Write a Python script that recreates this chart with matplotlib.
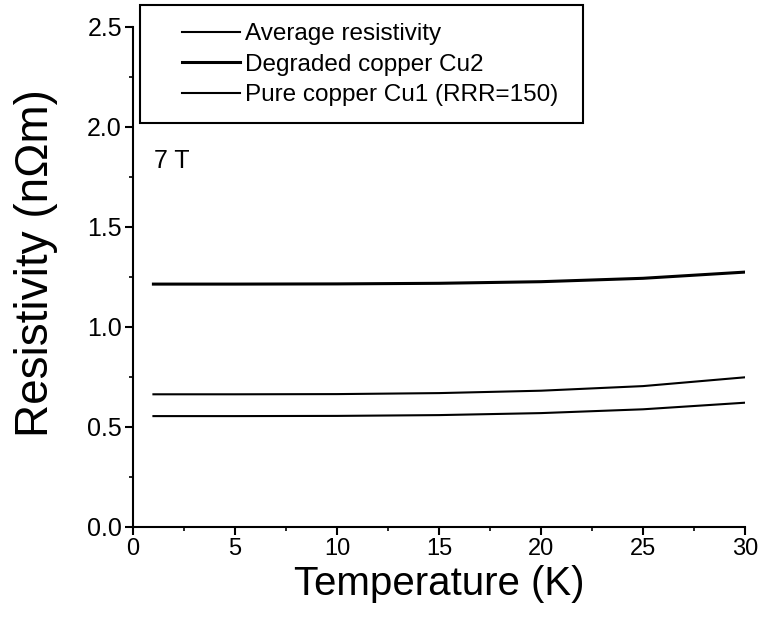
import matplotlib.pyplot as plt
from matplotlib.patches import Rectangle
from matplotlib.ticker import MultipleLocator

plt.rcParams['font.family'] = ['Liberation Sans', 'DejaVu Sans']

temp = [1, 5, 10, 15, 20, 25, 30]
rho_cu2 = [1.213, 1.213, 1.214, 1.217, 1.225, 1.242, 1.273]
rho_avg = [0.662, 0.662, 0.663, 0.668, 0.680, 0.703, 0.747]
rho_cu1 = [0.553, 0.553, 0.554, 0.558, 0.568, 0.587, 0.620]

labels = ['Average resistivity', 'Degraded copper Cu2', 'Pure copper Cu1 (RRR=150)']

fig = plt.figure(figsize=(7.61, 6.28), dpi=100)
ax = fig.add_axes([0.1748, 0.1613, 0.979 - 0.1748, 0.9575 - 0.1613])

l_avg, = ax.plot(temp, rho_avg, color='black', linewidth=1.5)
l_cu2, = ax.plot(temp, rho_cu2, color='black', linewidth=2.2)
l_cu1, = ax.plot(temp, rho_cu1, color='black', linewidth=1.5)

ax.set_xlim(0, 30)
ax.set_ylim(0, 2.5)
ax.xaxis.set_major_locator(MultipleLocator(5))
ax.xaxis.set_minor_locator(MultipleLocator(2.5))
ax.yaxis.set_major_locator(MultipleLocator(0.5))
ax.yaxis.set_minor_locator(MultipleLocator(0.25))
ax.xaxis.set_major_formatter(plt.FuncFormatter(lambda v, p: '%d' % v))
ax.yaxis.set_major_formatter(plt.FuncFormatter(lambda v, p: '%.1f' % v))

for s in ['top', 'right']:
    ax.spines[s].set_visible(False)
for s in ['left', 'bottom']:
    ax.spines[s].set_linewidth(1.5)

ax.tick_params(which='major', direction='out', length=6, width=1.5, labelsize=17, pad=2)
ax.tick_params(axis='y', which='major', labelsize=18)
ax.tick_params(which='minor', direction='out', length=3, width=1.2)

ax.set_xlabel('Temperature (K)', fontsize=29, labelpad=4)
ax.set_ylabel('Resistivity (n\u03a9m)', fontsize=33)
ax.yaxis.set_label_coords(-0.122, 0.527)

ax.text(1.05, 1.83, '7 T', fontsize=18, va='center')

# legend box drawn in figure pixels, legend entries inside it
fig.patches.append(Rectangle((140 / 761, 1 - 123 / 628), (583 - 140) / 761, (123 - 5) / 628,
                             transform=fig.transFigure, fill=False, edgecolor='black',
                             linewidth=1.5))
leg = fig.legend([l_avg, l_cu2, l_cu1], labels, loc='upper left',
                 bbox_to_anchor=(182 / 761, 1 - 23 / 628),
                 fontsize=17.5, frameon=False, handlelength=2.4, handletextpad=0.2,
                 labelspacing=0.35, borderpad=0, borderaxespad=0)

fig.savefig('out.png', dpi=100)
